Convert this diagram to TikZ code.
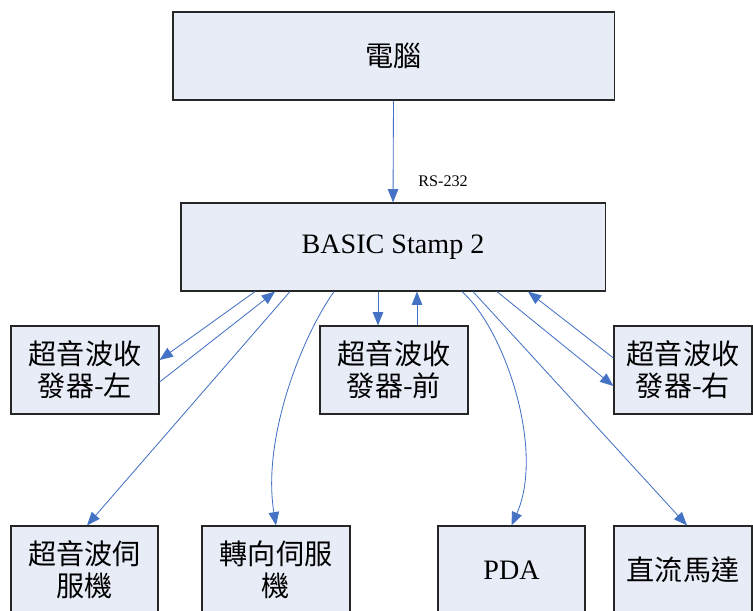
\documentclass[tikz,border=0pt]{standalone}
\usepackage{fontspec}
\setmainfont{Liberation Serif}
\newfontfamily\cjk{Noto Sans CJK TC}
\usetikzlibrary{arrows.meta}

\definecolor{boxfill}{RGB}{231,236,247}
\definecolor{linkblue}{RGB}{68,114,196}

\tikzset{
  unit/.style={draw=black!85, fill=boxfill, line width=0.8pt, inner sep=0pt,
    align=center, minimum height=2.2cm, font=\fontsize{20}{22.7}\selectfont},
  part/.style={unit, minimum width=3.7cm},
  link/.style={linkblue, line width=0.6pt, -{Triangle[length=9.5pt,width=7.5pt]}}
}

\begin{document}
\begin{tikzpicture}[x=0.025cm, y=-0.025cm]
    \useasboundingbox (0,0) rectangle (753,610);
    \clip (0,0) rectangle (753,610);

    % Main units
    \node[unit, minimum width=11.025cm] (pc) at (393.5,56) {\cjk 電腦};
    \node[unit, minimum width=10.6cm] (bs) at (393,247) {BASIC Stamp 2};

    % Sensors
    \node[part] (zuo) at (85,370) {\cjk 超音波收\\\cjk 發器-左};
    \node[part] (qian) at (394,370) {\cjk 超音波收\\\cjk 發器-前};
    \node[part, minimum width=3.45cm] (you) at (683,370) {\cjk 超音波收\\\cjk 發器-右};

    % Actuators
    \node[part, minimum width=3.675cm] (sv1) at (84.5,570) {\cjk 超音波伺\\\cjk 服機};
    \node[part] (sv2) at (276,570) {\cjk 轉向伺服\\\cjk 機};
    \node[part, minimum width=3.675cm] (pda) at (511.5,570) {PDA};
    \node[part, minimum width=3.45cm] (dcm) at (683,570) {\cjk 直流馬達};

    % Serial link
    \draw[link] (pc.south) -- node[pos=0.79, right=0.62cm, inner sep=0pt, text=black,
        font=\fontsize{11.5}{13}\selectfont] (rs) {RS-232} (bs.north);

    % Sensor links
    \draw[link] (255,0 |- bs.south) -- (zuo.east |- 0,360);
    \draw[link] (zuo.east |- 0,382) -- (275,0 |- bs.south);
    \draw[link] (378,0 |- bs.south) -- (378,0 |- qian.north);
    \draw[link] (417,0 |- qian.north) -- (417,0 |- bs.south);
    \draw[link] (497,0 |- bs.south) -- (you.west |- 0,386);
    \draw[link] (you.west |- 0,358) -- (528,0 |- bs.south);

    % Actuator links
    \draw[link] (290,0 |- bs.south) -- (87,0 |- sv1.north);
    \draw[link] (334,0 |- bs.south) .. controls (300,340) and (262,440) .. (sv2.north);
    \draw[link] (462,0 |- bs.south) .. controls (505,330) and (545,450) .. (pda.north);
    \draw[link] (473,0 |- bs.south) -- (687,0 |- dcm.north);
\end{tikzpicture}
\end{document}
